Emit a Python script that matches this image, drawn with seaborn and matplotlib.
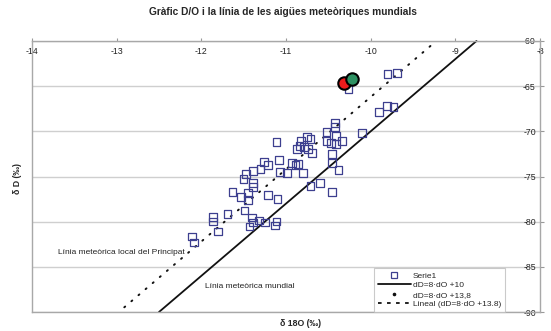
import matplotlib
matplotlib.use("Agg")
import matplotlib.pyplot as plt
from matplotlib.lines import Line2D
import numpy as np
import pandas as pd
import seaborn as sns

# Serie1: isotopic samples (delta 18O, delta D), per mil
serie1_o = [-9.80, -9.69, -10.26, -9.90, -9.81, -9.73, -10.10, -10.42, -10.42, -10.52,
            -10.41, -10.75, -10.71, -10.82, -11.11, -10.52, -10.47, -10.41, -10.34, -10.84,
            -10.87, -10.79, -10.74, -10.69, -10.46, -10.46, -10.38, -11.08, -11.26, -11.21,
            -11.30, -11.39, -11.47, -11.50, -11.07, -10.99, -10.93, -10.89, -10.86, -10.80,
            -11.39, -11.39, -11.63, -11.53, -11.45, -11.45, -11.21, -11.10, -10.71, -10.60,
            -10.46, -11.49, -11.69, -11.86, -11.86, -11.80, -12.11, -12.09, -11.40, -11.32,
            -11.25, -11.43, -11.11, -11.39, -11.13]
serie1_d = [-63.65, -63.54, -65.30, -67.85, -67.18, -67.29, -70.17, -69.06, -69.50, -70.06,
            -70.50, -70.61, -70.83, -71.05, -71.16, -71.05, -71.27, -71.38, -71.05, -71.60,
            -71.93, -71.71, -71.93, -72.38, -72.49, -73.48, -74.25, -73.15, -73.37, -73.70,
            -74.14, -74.36, -74.70, -75.25, -74.48, -74.59, -73.48, -73.70, -73.59, -74.59,
            -75.69, -76.13, -76.69, -77.24, -76.80, -77.57, -77.02, -77.46, -76.02, -75.69,
            -76.69, -78.78, -79.12, -79.45, -80.00, -81.10, -81.66, -82.32, -79.56, -79.89,
            -80.11, -80.55, -80.00, -80.11, -80.44]

# Two highlighted samples
red_o, red_d = [-10.32], [-64.64]
green_o, green_d = [-10.22], [-64.20]

# Global meteoric water line: dD = 8 dO + 10
gmwl_o = np.array([-12.5, -8.75])
gmwl_d = 8 * gmwl_o + 10
# Local meteoric water line: dD = 8 dO + 13.8
lmwl_o = np.array([-12.91, -9.28])
lmwl_d = 8 * lmwl_o + 13.8

x_ticks = [-14, -13, -12, -11, -10, -9, -8]
y_ticks = [-60, -65, -70, -75, -80, -85, -90]

sns.set_style("white")
plt.rcParams["font.family"] = ["Liberation Sans", "DejaVu Sans"]

fig = plt.figure(figsize=(5.51, 3.31), dpi=100)
ax = fig.add_axes([32 / 551, 1 - 312 / 331, 508 / 551, 271 / 331])

df = pd.DataFrame({"o": serie1_o, "d": serie1_d})
sns.scatterplot(data=df, x="o", y="d", ax=ax, marker="s", s=30,
                facecolor="none", edgecolor="#3d3f8f", linewidth=0.9, zorder=3)

ax.plot(lmwl_o, lmwl_d, color="#111111", linewidth=1.4,
        linestyle=(0, (0.6, 4.2)), dash_capstyle="round", zorder=2)
ax.plot(gmwl_o, gmwl_d, color="#111111", linewidth=1.3, zorder=2, clip_on=False)

ax.scatter(red_o, red_d, s=80, color="#ee1c1c", edgecolor="black", linewidth=1.5, zorder=5)
ax.scatter(green_o, green_d, s=80, color="#2e9162", edgecolor="black", linewidth=1.5, zorder=6)

ax.set_xlim(-14, -8)
ax.set_ylim(-90, -60)
ax.set_xticks(x_ticks)
ax.set_yticks(y_ticks)
ax.set_xticklabels([str(v) for v in x_ticks])
ax.set_yticklabels([str(v) for v in y_ticks])

ax.xaxis.tick_top()
ax.yaxis.tick_right()
ax.tick_params(axis="x", length=2, color="#999999", labelsize=6.3, pad=-13, labelcolor="#222222")
ax.tick_params(axis="y", length=3, color="#999999", labelsize=6.3, pad=-6, labelcolor="#222222")
for lab in ax.yaxis.get_majorticklabels():
    lab.set_horizontalalignment("right")

ax.yaxis.grid(True, color="#cfcfcf", linewidth=1)
ax.xaxis.grid(False)
for sp in ax.spines.values():
    sp.set_visible(True)
    sp.set_color("#a8a8a8")
    sp.set_linewidth(1)

ax.set_xlabel("")
ax.set_ylabel("")
fig.text(301 / 551, 1 - 323 / 331, "δ 18O (‰)", ha="center", va="center",
         fontsize=6.3, fontweight="bold")
fig.text(18 / 551, 1 - 178 / 331, "δ D (‰)", ha="center", va="center",
         rotation=90, fontsize=6.3, fontweight="bold")
fig.text(283 / 551, 1 - 12 / 331, "Gràfic D/O i la línia de les aigües meteòriques mundials",
         ha="center", va="center", fontsize=7.3, fontweight="bold")

ax.text(-13.69, -83.4, "Línia meteòrica local del Principat", fontsize=6,
        ha="left", va="center", color="#222222")
ax.text(-11.96, -87.2, "Línia meteòrica mundial", fontsize=6,
        ha="left", va="center", color="#222222")

handles = [
    Line2D([], [], marker="s", linestyle="none", markerfacecolor="none",
           markeredgecolor="#3d3f8f", markersize=4, markeredgewidth=0.9),
    Line2D([], [], color="#111111", linewidth=1.3),
    Line2D([], [], marker="o", linestyle="none", color="#111111", markersize=1.6),
    Line2D([], [], color="#111111", linewidth=1.3, linestyle=(0, (2, 3))),
]
labels = ["Serie1", "dD=8·dO +10", "dD=8·dO +13,8", "Lineal (dD=8·dO +13.8)"]
leg = ax.legend(handles, labels, loc="lower left", bbox_to_anchor=(0.673, 0.0),
                fontsize=6, frameon=True, fancybox=False, borderpad=0.45,
                labelspacing=0.2, handlelength=4.0, handletextpad=0.25,
                borderaxespad=0)
leg.get_frame().set_edgecolor("#bdbdbd")
leg.get_frame().set_linewidth(0.8)

fig.savefig("out.png", dpi=100)
